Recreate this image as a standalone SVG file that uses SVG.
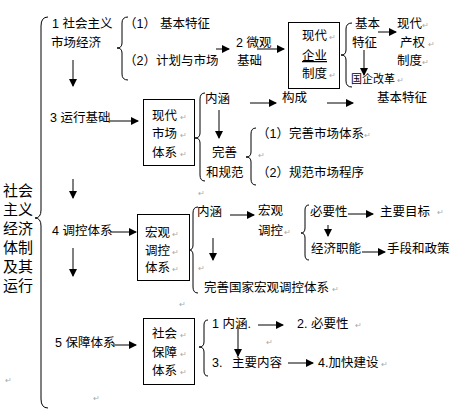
<svg xmlns="http://www.w3.org/2000/svg" width="450" height="411" viewBox="0 0 450 411">
<style>
text{font-family:"Liberation Sans","Noto Sans CJK SC",sans-serif;font-size:12.5px;fill:#000}
.big{font-size:15px}
.sm{font-size:11px}
.pm{font-size:8px;fill:#aaa}
.box{fill:#fff;stroke:#000;stroke-width:1}
.br{fill:none;stroke:#000;stroke-width:1}
.con line{stroke:#000;stroke-width:1;marker-end:url(#ah)}
</style>
<defs>
<marker id="ah" viewBox="0 0 8 8" refX="7" refY="4" markerWidth="8" markerHeight="8" markerUnits="userSpaceOnUse" orient="auto">
<path d="M0,0 L8,4 L0,8 Z" fill="#000"/>
</marker>
</defs>
<rect width="450" height="411" fill="#fff"/>

<g id="root">
<path class="br" d="M48,17 Q41,17 41,26 L41,210 Q41,218 35,218 Q41,218 41,226 L41,399 Q41,408 48,408"/>
<text class="big" x="3" y="196">社会</text>
<text class="big" x="3" y="215">主义</text>
<text class="big" x="3" y="234">经济</text>
<text class="big" x="3" y="253">体制</text>
<text class="big" x="3" y="272">及其</text>
<text class="big" x="3" y="291">运行</text>
<text class="pm" x="5" y="383">↵</text>
<text class="pm" x="93" y="401">↵</text>
</g>

<g id="n1">
<text x="52" y="28">1 社会主义</text>
<text x="51" y="47">市场经济</text>
<path class="br" d="M128,17 Q122,17 122,23 L122,43 Q122,48 117,48 Q122,48 122,53 L122,74 Q122,80 128,80"/>
<text x="124" y="28">（1）</text>
<text x="160" y="28">基本特征</text>
<text x="124" y="65">（2）计划与市场</text>
</g>

<g id="n2">
<text x="236" y="47">2 微观</text>
<text x="237" y="65">基础</text>
<rect class="box" x="288.5" y="22.5" width="51" height="66"/>
<text x="302" y="40">现代</text>
<text x="302" y="60" text-decoration="underline">企业</text>
<text x="302" y="78">制度</text>
<text class="pm" x="329" y="40">↵</text>
<text class="pm" x="329" y="78">↵</text>
<path class="br" d="M352,23 Q346,23 346,29 L346,50 Q346,55 341,55 Q346,55 346,60 L346,81 Q346,87 352,87"/>
<text x="355" y="28">基本</text>
<text x="352" y="47">特征</text>
<text class="sm" x="351" y="83">国企改革</text>
<text class="pm" x="397" y="83">↵</text>
<text x="397" y="28">现代</text>
<text x="400" y="47">产权</text>
<text x="397" y="65">制度</text>
<text class="pm" x="422" y="28">↵</text>
<text class="pm" x="428" y="47">↵</text>
<text class="pm" x="422" y="65">↵</text>
</g>

<g id="n3">
<text x="50" y="122">3 运行基础</text>
<rect class="box" x="143.5" y="99.5" width="51" height="66"/>
<text x="152" y="120">现代</text>
<text x="152" y="138">市场</text>
<text x="152" y="157">体系</text>
<text class="pm" x="180" y="120">↵</text>
<text class="pm" x="180" y="138">↵</text>
<text class="pm" x="180" y="157">↵</text>
<path class="br" d="M205,93 Q200,93 200,99 L200,133 Q200,138 195,138 Q200,138 200,143 L200,175 Q200,181 205,181"/>
<text x="205" y="103">内涵</text>
<text x="282" y="102">构成</text>
<text x="377" y="102">基本特征</text>
<text x="212" y="157">完善</text>
<text x="206" y="177">和规范</text>
<path class="br" d="M256,128 Q251,128 251,134 L251,152 Q251,157 246,157 Q251,157 251,162 L251,179 Q251,185 256,185"/>
<text x="257" y="138">（1）完善市场体系</text>
<text x="257" y="177">（2）规范市场程序</text>
<text class="pm" x="364" y="138">↵</text>
<text class="pm" x="258" y="158">↵</text>
<text class="pm" x="198" y="196">↵</text>
</g>

<g id="n4">
<text x="52" y="235">4 调控体系</text>
<rect class="box" x="137.5" y="214.5" width="52" height="66"/>
<text x="145" y="237">宏观</text>
<text x="145" y="255">调控</text>
<text x="145" y="272">体系</text>
<text class="pm" x="172" y="237">↵</text>
<text class="pm" x="172" y="255">↵</text>
<text class="pm" x="172" y="272">↵</text>
<path class="br" d="M198,207 Q193,207 193,213 L193,245 Q193,250 189,250 Q193,250 193,255 L193,287 Q193,293 198,293"/>
<text x="197" y="216">内涵</text>
<text class="pm" x="198" y="271">↵</text>
<text x="204" y="292">完善国家宏观调控体系</text>
<text class="pm" x="332" y="292">↵</text>
<text x="258" y="215">宏观</text>
<text x="258" y="235">调控</text>
<text class="pm" x="284" y="235">↵</text>
<path class="br" d="M309,205 Q305,205 305,210 L305,228 Q305,233 301,233 Q305,233 305,238 L305,255 Q305,260 309,260"/>
<text x="310" y="216">必要性</text>
<text x="380" y="216">主要目标</text>
<text class="pm" x="437" y="215">↵</text>
<text x="311" y="253">经济职能</text>
<text x="387" y="253">手段和政策</text>
</g>

<g id="n5">
<text x="55" y="347">5 保障体系</text>
<rect class="box" x="143.5" y="318.5" width="51" height="66"/>
<text x="152" y="338">社会</text>
<text x="152" y="357">保障</text>
<text x="152" y="375">体系</text>
<text class="pm" x="180" y="338">↵</text>
<text class="pm" x="180" y="357">↵</text>
<text class="pm" x="180" y="375">↵</text>
<text class="pm" x="179" y="307">↵</text>
<path class="br" d="M208,320 Q204,320 204,325 L204,342 Q204,347 199,347 Q204,347 204,352 L204,371 Q204,376 208,376"/>
<text x="212" y="328">1 内涵.</text>
<text x="297" y="328">2. 必要性</text>
<text class="pm" x="355" y="328">↵</text>
<text class="pm" x="266" y="345">↵</text>
<text x="212" y="367">3.</text>
<text x="232" y="367">主要内容</text>
<text x="318" y="367">4.加快建设</text>
<text class="pm" x="381" y="367">↵</text>
</g>

<g id="connectors" class="con">
<line x1="216" y1="49" x2="229" y2="49"/>
<line x1="257" y1="49" x2="284" y2="49"/>
<line x1="378" y1="32" x2="396" y2="32"/>
<line x1="364" y1="50" x2="364" y2="75"/>
<line x1="73" y1="60" x2="73" y2="86"/>
<line x1="110" y1="121" x2="138" y2="121"/>
<line x1="250" y1="103" x2="276" y2="103"/>
<line x1="327" y1="103" x2="353" y2="103"/>
<line x1="219" y1="110" x2="219" y2="138"/>
<line x1="73" y1="179" x2="73" y2="198"/>
<line x1="110" y1="232" x2="136" y2="232"/>
<line x1="230" y1="215" x2="254" y2="215"/>
<line x1="213" y1="238" x2="213" y2="260"/>
<line x1="73" y1="248" x2="73" y2="276"/>
<line x1="348" y1="214" x2="373" y2="214"/>
<line x1="328" y1="225" x2="328" y2="236"/>
<line x1="362" y1="252" x2="385" y2="252"/>
<line x1="113" y1="345" x2="136" y2="345"/>
<line x1="258" y1="325" x2="283" y2="325"/>
<line x1="238" y1="327" x2="238" y2="356"/>
<line x1="288" y1="363" x2="313" y2="363"/>
</g>
</svg>
